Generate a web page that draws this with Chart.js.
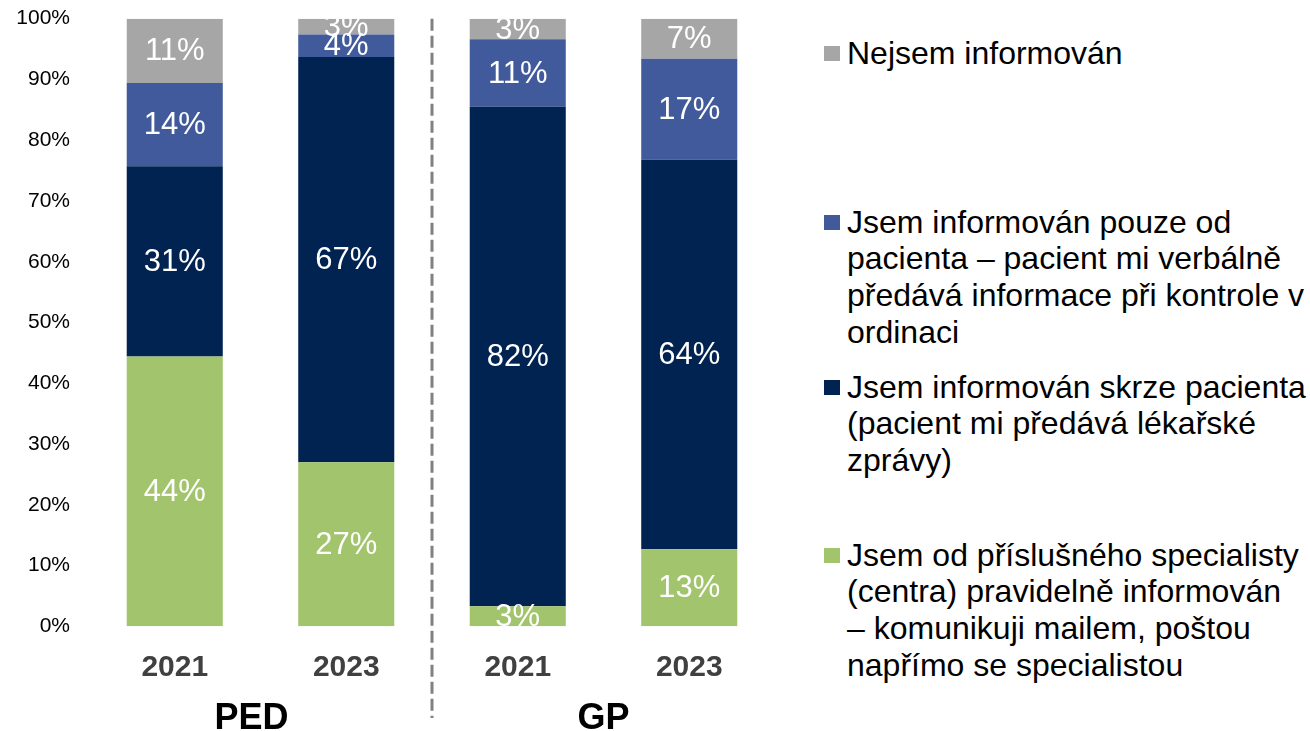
<!DOCTYPE html>
<html>
<head>
<meta charset="utf-8">
<script src="https://cdn.jsdelivr.net/npm/chart.js@4.4.0/dist/chart.umd.min.js"></script>
<style>
  body { margin: 0; background: #fff; font-family: "Liberation Sans", Arial, sans-serif; }
  #wrap { position: relative; width: 1310px; height: 731px; overflow: hidden; }
  #chartBox { position: absolute; left: 0; top: 0; width: 780px; height: 731px; }
  .item { position: absolute; left: 824px; font-size: 32px; line-height: 36.7px; color: #000; white-space: nowrap; }
  .item .box { position: absolute; left: 0; top: 11px; width: 16px; height: 15px; }
  .item .txt { margin-left: 23px; }
</style>
</head>
<body>
<div id="wrap">
  <div id="chartBox"><canvas id="surveyChart"></canvas></div>
  <div id="legend"></div>
</div>
<script>
const years = ["2021", "2023", "2021", "2023"];
const groups = [
  { name: "PED", from: 0, to: 1 },
  { name: "GP", from: 2, to: 3 }
];

// shares in %, bottom to top of each bar
const fromSpecialist = [44.4, 27.0, 3.3, 12.7];
const viaPatientReports = [31.3, 66.7, 82.2, 64.1];
const fromPatientVerbal = [13.7, 3.7, 11.1, 16.6];
const notInformed = [10.6, 2.6, 3.4, 6.6];

const labelSpecialist = ["Jsem od příslušného specialisty", "(centra) pravidelně informován", "– komunikuji mailem, poštou", "napřímo se specialistou"];
const labelReports = ["Jsem informován skrze pacienta", "(pacient mi předává lékařské", "zprávy)"];
const labelVerbal = ["Jsem informován pouze od", "pacienta – pacient mi verbálně", "předává informace při kontrole v", "ordinaci"];
const labelNone = ["Nejsem informován"];

const yTicks = [0, 10, 20, 30, 40, 50, 60, 70, 80, 90, 100];

Chart.defaults.font.family = '"Liberation Sans", Arial, sans-serif';

const segmentLabels = {
  id: "segmentLabels",
  afterDatasetsDraw(chart) {
    const { ctx, chartArea } = chart;
    ctx.save();
    ctx.beginPath();
    ctx.rect(chartArea.left, chartArea.top, chartArea.right - chartArea.left, chartArea.bottom - chartArea.top);
    ctx.clip();
    ctx.fillStyle = "#fff";
    ctx.font = '31px "Liberation Sans", Arial, sans-serif';
    ctx.textAlign = "center";
    ctx.textBaseline = "middle";
    chart.data.datasets.forEach((ds, i) => {
      chart.getDatasetMeta(i).data.forEach((bar, j) => {
        const v = ds.data[j];
        ctx.fillText(Math.round(v) + "%", bar.x, (bar.y + bar.base) / 2 + 1);
      });
    });
    ctx.restore();
  }
};

const groupNudge = [-9, 0];

const groupDivider = {
  id: "groupDivider",
  afterDraw(chart) {
    const { ctx, chartArea } = chart;
    const x = chart.scales.x;
    const midX = (x.getPixelForValue(1) + x.getPixelForValue(2)) / 2;
    ctx.save();
    ctx.strokeStyle = "#808080";
    ctx.lineWidth = 3;
    ctx.setLineDash([12, 5]);
    ctx.beginPath();
    ctx.moveTo(midX, chartArea.top);
    ctx.lineTo(midX, 718);
    ctx.stroke();
    ctx.setLineDash([]);
    ctx.fillStyle = "#000";
    ctx.font = 'bold 36px "Liberation Sans", Arial, sans-serif';
    ctx.textAlign = "center";
    ctx.textBaseline = "middle";
    groups.forEach((g, i) => {
      const cx = (x.getPixelForValue(g.from) + x.getPixelForValue(g.to)) / 2 + groupNudge[i];
      ctx.fillText(g.name, cx, 719);
    });
    ctx.restore();
  }
};

const ctx = document.getElementById("surveyChart").getContext("2d");

const surveyChart = new Chart(ctx, {
  type: "bar",
  data: {
    labels: years,
    datasets: [
      { label: labelSpecialist, data: fromSpecialist, backgroundColor: "#A2C46C" },
      { label: labelReports, data: viaPatientReports, backgroundColor: "#012352" },
      { label: labelVerbal, data: fromPatientVerbal, backgroundColor: "#415A9B" },
      { label: labelNone, data: notInformed, backgroundColor: "#A6A6A6" }
    ]
  },
  options: {
    responsive: true,
    maintainAspectRatio: false,
    animation: false,
    layout: { padding: { top: 18.7, right: 5, bottom: 0, left: 0 } },
    datasets: { bar: { categoryPercentage: 1, barPercentage: 0.56 } },
    plugins: { legend: { display: false }, tooltip: { enabled: false } },
    scales: {
      x: {
        stacked: true,
        afterFit: axis => { axis.height = 104.7; axis.paddingLeft = 0; axis.paddingRight = 0; },
        grid: { display: false },
        border: { display: false },
        ticks: { color: "#404040", padding: 18, font: { size: 30, weight: "bold", lineHeight: 1 } }
      },
      y: {
        stacked: true,
        min: 0,
        max: 100,
        afterBuildTicks: axis => { axis.ticks = yTicks.map(v => ({ value: v })); },
        afterFit: axis => { axis.width = 89; axis.paddingTop = 0; axis.paddingBottom = 0; },
        grid: { display: false, drawTicks: false },
        border: { display: false },
        ticks: { color: "#000", padding: 19, font: { size: 21 }, callback: v => v + "%" }
      }
    }
  },
  plugins: [segmentLabels, groupDivider]
});

// legend, top entry is the top segment
const legendTops = [34.6, 203.6, 368.6, 536.6];
const legendEl = document.getElementById("legend");
surveyChart.data.datasets.slice().reverse().forEach((ds, i) => {
  const item = document.createElement("div");
  item.className = "item";
  item.style.top = legendTops[i] + "px";
  item.innerHTML = `<span class="box" style="background:${ds.backgroundColor}"></span><div class="txt">${ds.label.join("<br>")}</div>`;
  legendEl.appendChild(item);
});
</script>
</body>
</html>
